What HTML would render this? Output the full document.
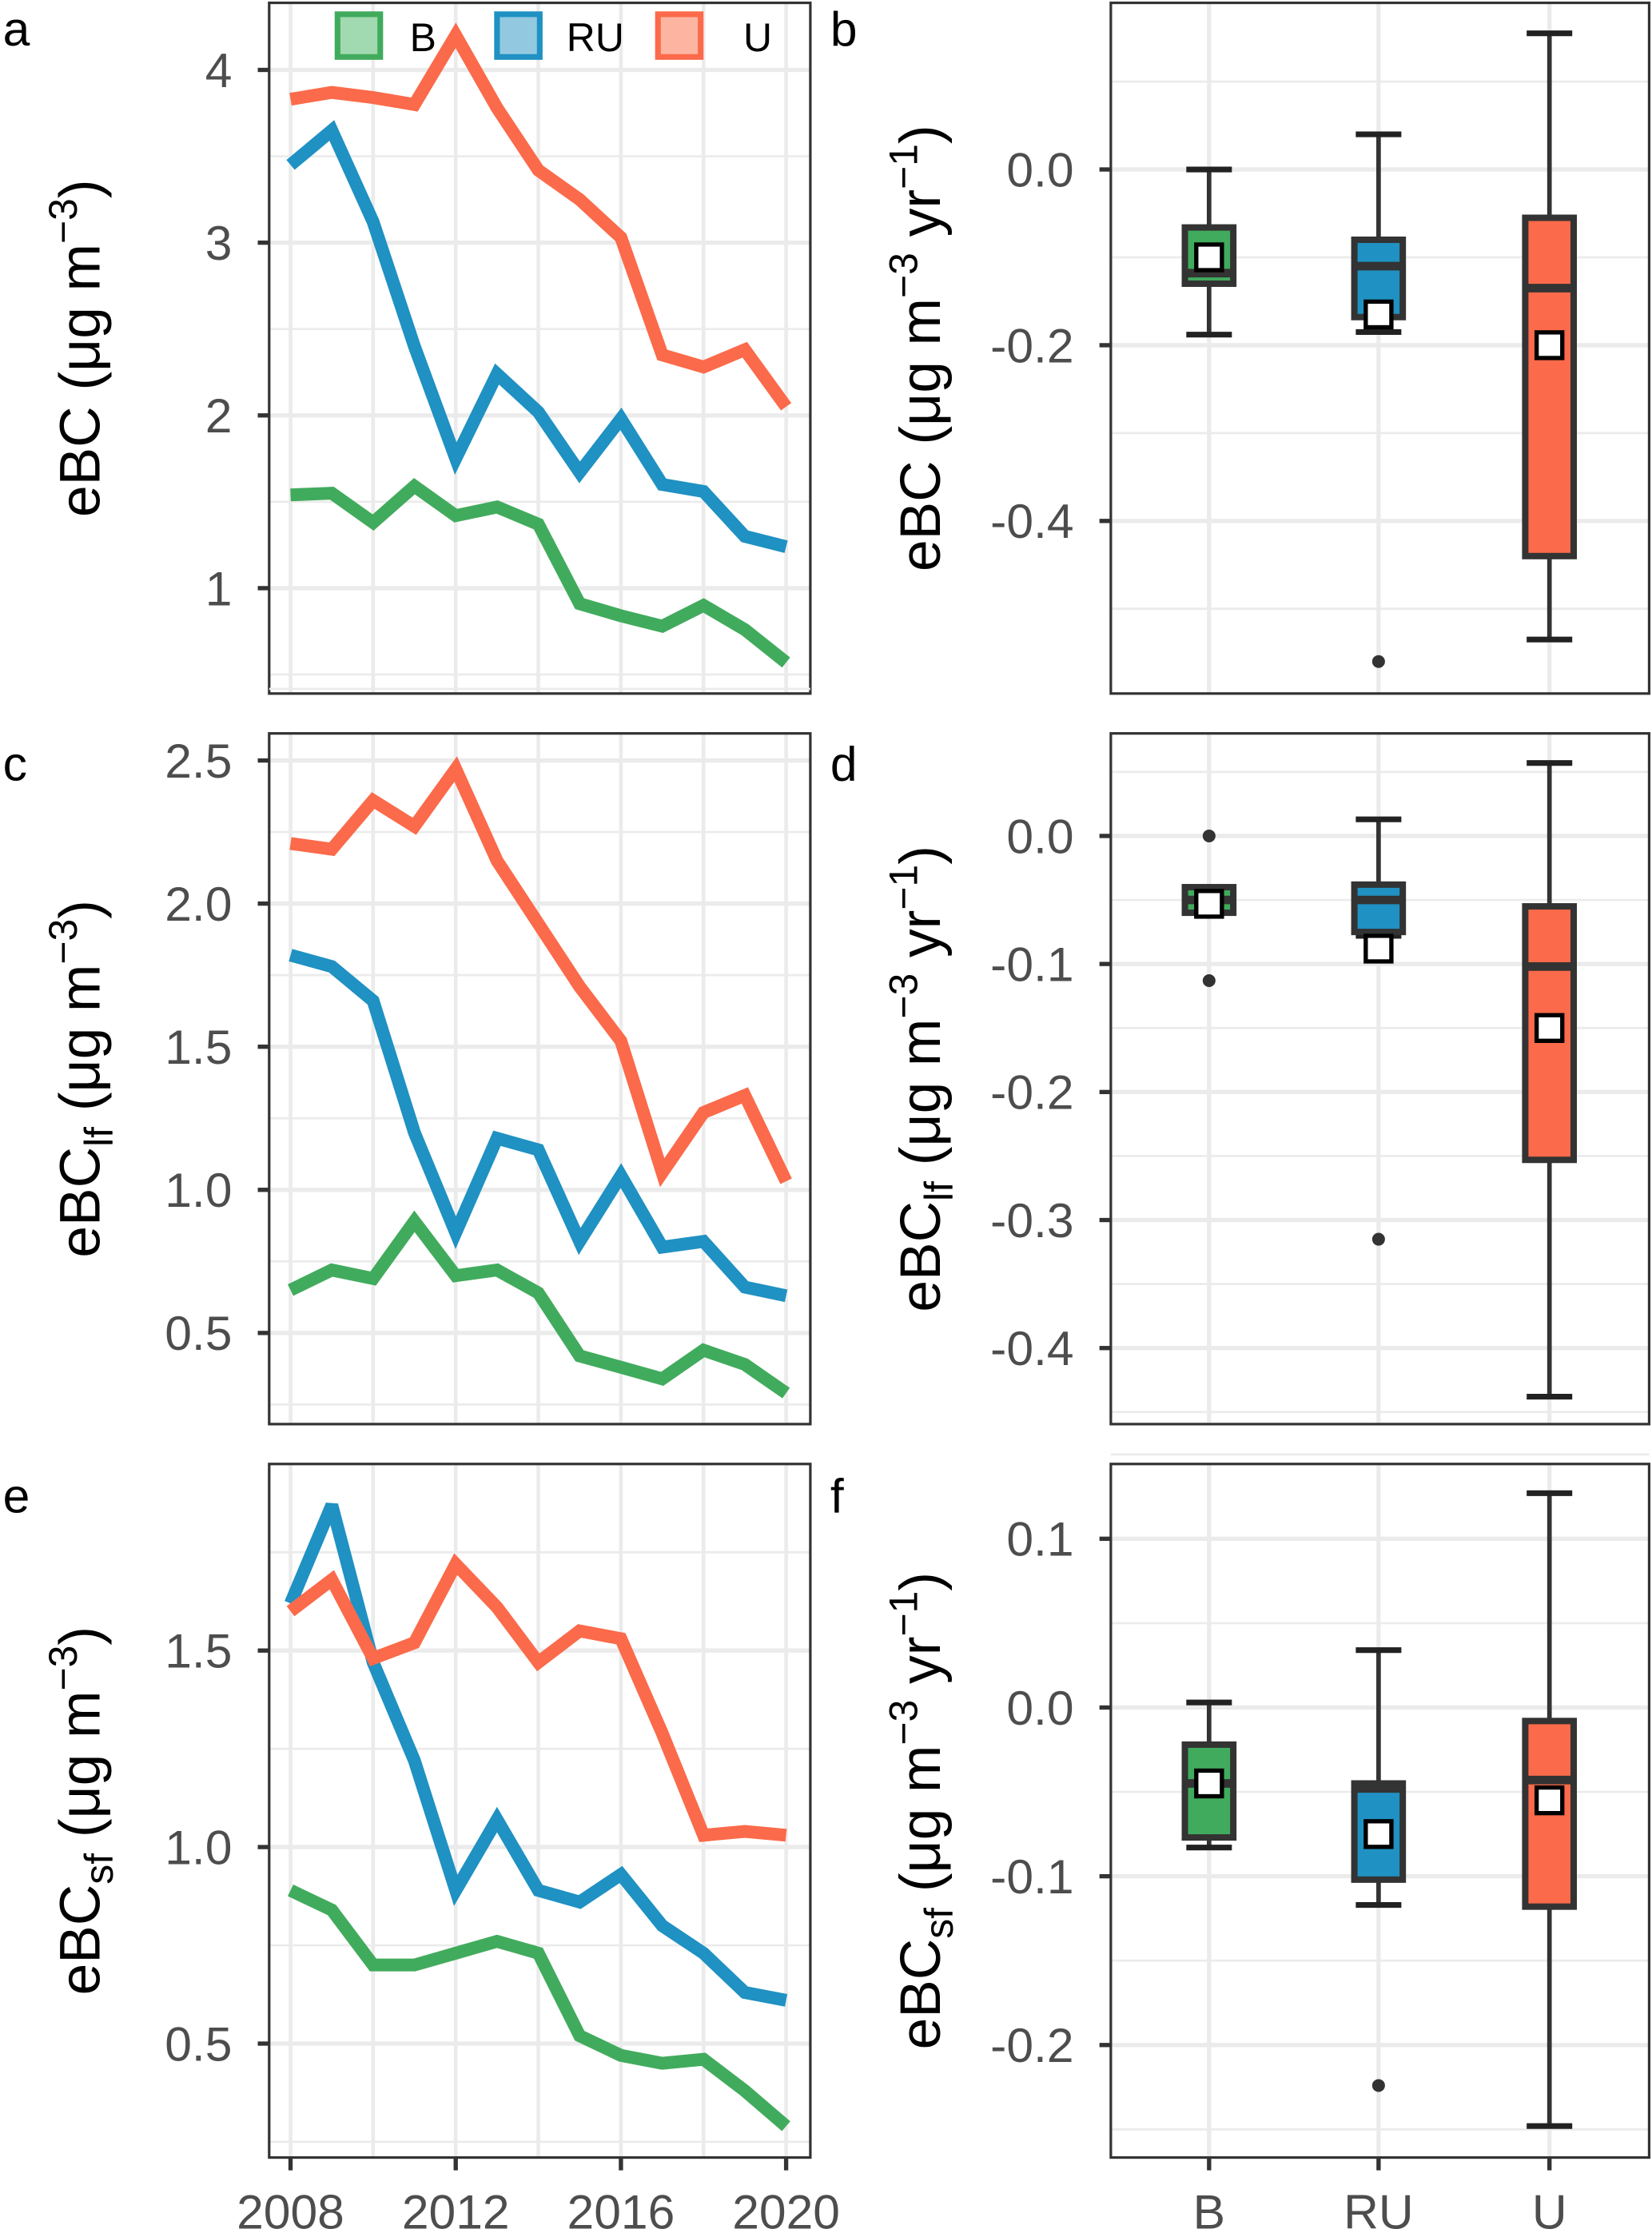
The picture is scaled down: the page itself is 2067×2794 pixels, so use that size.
<!DOCTYPE html>
<html><head><meta charset="utf-8">
<style>
html,body{margin:0;padding:0;background:#fff;}
svg{display:block;font-family:"Liberation Sans",Arial,sans-serif;}
</style></head>
<body>
<svg id="fig" width="2067" height="2794" viewBox="0 0 1160 1568" xmlns="http://www.w3.org/2000/svg"></svg>
<script>
const years = [2008,2009,2010,2011,2012,2013,2014,2015,2016,2017,2018,2019,2020];
const xTickLabels = [2008,2012,2016,2020];
const groups = ["B","RU","U"];
// Panel a
const aU  = [3.83,3.87,3.84,3.80,4.20,3.78,3.42,3.25,3.03,2.35,2.28,2.38,2.05];
const aRU = [3.45,3.65,3.12,2.40,1.75,2.24,2.02,1.67,1.98,1.60,1.56,1.30,1.24];
const aB  = [1.54,1.55,1.38,1.59,1.42,1.47,1.37,0.91,0.84,0.78,0.90,0.76,0.57];
const aTicks = [1,2,3,4];
// Panel c
const cU  = [2.21,2.19,2.36,2.27,2.47,2.15,1.93,1.71,1.52,1.06,1.27,1.33,1.03];
const cRU = [1.82,1.78,1.66,1.20,0.85,1.18,1.14,0.82,1.05,0.80,0.82,0.66,0.63];
const cB  = [0.65,0.72,0.69,0.89,0.70,0.72,0.64,0.42,0.38,0.34,0.44,0.39,0.29];
const cTicks = [0.5,1.0,1.5,2.0,2.5];
// Panel e
const eU  = [1.60,1.68,1.48,1.52,1.72,1.61,1.47,1.55,1.53,1.29,1.03,1.04,1.03];
const eRU = [1.62,1.87,1.47,1.22,0.89,1.07,0.89,0.86,0.93,0.80,0.73,0.63,0.61];
const eB  = [0.89,0.84,0.70,0.70,0.73,0.76,0.73,0.52,0.47,0.45,0.46,0.38,0.29];
const eTicks = [0.5,1.0,1.5];
// Box stats: [whiskerLow, q1, median, q3, whiskerHigh, mean]
const bStats = [[-0.188,-0.130,-0.118,-0.066,0.0,-0.100],[-0.185,-0.168,-0.110,-0.080,0.040,-0.165],[-0.535,-0.440,-0.135,-0.055,0.155,-0.200]];
const bOut = [[],[-0.56],[]];
const bTicks = [-0.4,-0.2,0.0];
const dStats = [[-0.060,-0.060,-0.050,-0.040,-0.040,-0.053],[-0.078,-0.075,-0.050,-0.038,0.013,-0.088],[-0.438,-0.253,-0.102,-0.055,0.057,-0.150]];
const dOut = [[0.0,-0.113],[-0.315],[]];
const dTicks = [-0.4,-0.3,-0.2,-0.1,0.0];
const fStats = [[-0.083,-0.077,-0.045,-0.022,0.003,-0.045],[-0.117,-0.102,-0.048,-0.045,0.034,-0.075],[-0.248,-0.118,-0.043,-0.008,0.127,-0.055]];
const fOut = [[],[-0.224],[]];
const fTicks = [-0.2,-0.1,0.0,0.1];

const colors = {B:"#41ab5d",RU:"#1f91c2",U:"#fb6a4a"};
const light = {B:"#a1d9b0",RU:"#93c9e0",U:"#fdb5a2"};
const NS="http://www.w3.org/2000/svg";
const svg=document.getElementById('fig');
function el(tag,attrs,parent){const e=document.createElementNS(NS,tag);for(const k in attrs)e.setAttribute(k,attrs[k]);(parent||svg).appendChild(e);return e;}
function lin(d0,d1,r0,r1){return v=>r0+(v-d0)*(r1-r0)/(d1-d0);}

function frame(g,x0,x1,y0,y1){
  const r=el('rect',{x:x0,y:y0,width:x1-x0,height:y1-y0,fill:'none',stroke:'#333',"stroke-width":1.8},g);
  
}
function yAxis(g,ticks,y,x0,x1,fmt){
  for(let i=0;i<ticks.length+1;i++){
    const step=ticks[1]-ticks[0];
    const v=ticks[0]+(i-0.5)*step;
    const yy=y(v);
    const l=el('line',{x1:x0,x2:x1,y1:yy,y2:yy,stroke:'#ebebeb',"stroke-width":1.5},g);
    
  }
  ticks.forEach(v=>{
    const yy=y(v);
    const l=el('line',{x1:x0,x2:x1,y1:yy,y2:yy,stroke:'#ebebeb',"stroke-width":3},g);
    
    const t=el('line',{x1:x0-8,x2:x0,y1:yy,y2:yy,stroke:'#333',"stroke-width":3},g);
    
    const tx=el('text',{x:x0-26,y:yy+12,"text-anchor":"end","font-size":34,fill:'#4d4d4d'},g);
    tx.textContent=fmt(v);
    
  });
}
function yTitle(g,x,cy,main,sub,unitKind){
  const t=el('text',{transform:`translate(${x},${cy}) rotate(-90)`,"text-anchor":"middle","font-size":40,fill:'#000'},g);
  
  let s=`<tspan>${main}</tspan>`;
  if(sub) s+=`<tspan font-size="28" dy="9">${sub}</tspan><tspan dy="-9"> </tspan>`; else s+=`<tspan> </tspan>`;
  if(unitKind==='c') s+=`<tspan>(μg m</tspan><tspan font-size="28" dy="-16">−3</tspan><tspan dy="16">)</tspan>`;
  else s+=`<tspan>(μg m</tspan><tspan font-size="28" dy="-16">−3</tspan><tspan dy="16"> yr</tspan><tspan font-size="28" dy="-16">−1</tspan><tspan dy="16">)</tspan>`;
  t.innerHTML=s;
}
function panelLetter(x,y,ch){const t=el('text',{x:x,y:y,"font-size":34,fill:'#000'});t.textContent=ch;}

function linePanel(name,y0,y1,vTop,vBot,ticks,fmt,series,showX,title,sub){
  const g=el('g',{});
  const X0=189,X1=569;
  const x=lin(2008,2020,204,552);
  const y=lin(vTop,vBot,y0,y1);
  for(let yr=2008;yr<=2020;yr+=2){
    const l=el('line',{x1:x(yr),x2:x(yr),y1:y0,y2:y1,stroke:'#ebebeb',"stroke-width":2.6},g);
    
  }
  yAxis(g,ticks,y,X0,X1,fmt);
  series.forEach(([grp,vals])=>{
    const pts=years.map((yr,i)=>x(yr).toFixed(1)+','+y(vals[i]).toFixed(1)).join(' ');
    const p=el('polyline',{points:pts,fill:'none',stroke:colors[grp],"stroke-width":9,"stroke-linejoin":"miter","stroke-miterlimit":3},g);
    
  });
  frame(g,X0,X1,y0,y1);
  if(showX){
    xTickLabels.forEach(v=>{
      const t=el('line',{x1:x(v),x2:x(v),y1:y1,y2:y1+9,stroke:'#333',"stroke-width":3},g);
      
      const tx=el('text',{x:x(v),y:y1+50,"text-anchor":"middle","font-size":34,fill:'#4d4d4d'},g);
      tx.textContent=v;
    });
  }
  yTitle(g,70,(y0+y1)/2,title,sub,'c');
  return g;
}
function boxPanel(name,y0,y1,vTop,vBot,ticks,stats,outs,showX,title,sub){
  const g=el('g',{});
  const X0=780,X1=1158;
  const xs=[849,968,1088];
  const y=lin(vTop,vBot,y0,y1);
  xs.forEach(xx=>{const l=el('line',{x1:xx,x2:xx,y1:y0,y2:y1,stroke:'#ebebeb',"stroke-width":3},g);});
  yAxis(g,ticks,y,X0,X1,v=>v.toFixed(1).replace('-0.0','0.0'));
  stats.forEach((s,i)=>{
    const grp=groups[i],xx=xs[i];
    const [wl,q1,md,q3,wh,mn]=s;
    const bg=el('g',{},g);
    el('line',{x1:xx,x2:xx,y1:y(wh),y2:y(wl),stroke:'#333',"stroke-width":3.2},bg);
    el('line',{x1:xx-16,x2:xx+16,y1:y(wh),y2:y(wh),stroke:'#222',"stroke-width":4},bg);
    el('line',{x1:xx-16,x2:xx+16,y1:y(wl),y2:y(wl),stroke:'#222',"stroke-width":4},bg);
    el('rect',{x:xx-17,y:y(q3),width:34,height:Math.max(y(q1)-y(q3),1),fill:colors[grp],stroke:'#333',"stroke-width":4.5},bg);
    el('line',{x1:xx-17,x2:xx+17,y1:y(md),y2:y(md),stroke:'#333',"stroke-width":6},bg);
    const m=el('rect',{x:xx-9,y:y(mn)-9,width:18,height:18,fill:'#fff',stroke:'#000',"stroke-width":3},bg);
    
    outs[i].forEach(o=>{const c=el('circle',{cx:xx,cy:y(o),r:4.5,fill:'#333'},bg);});
  });
  frame(g,X0,X1,y0,y1);
  if(showX){
    xs.forEach((xx,i)=>{
      const t=el('line',{x1:xx,x2:xx,y1:y1,y2:y1+9,stroke:'#333',"stroke-width":3},g);
      
      const tx=el('text',{x:xx,y:y1+50,"text-anchor":"middle","font-size":34,fill:'#4d4d4d'},g);
      tx.textContent=groups[i];
    });
  }
  yTitle(g,660,(y0+y1)/2,title,sub,'t');
}

linePanel('panel-a',2,487,1+(413-2)/121.3,1-(487-413)/121.3,aTicks,v=>String(v),[['B',aB],['RU',aRU],['U',aU]],false,'eBC',null);
linePanel('panel-c',515,1000,2.5+(534-515)/201,0.5-(1000-936)/201,cTicks,v=>v.toFixed(1),[['B',cB],['RU',cRU],['U',cU]],false,'eBC','lf');
linePanel('panel-e',1028,1515,1.5+(1159-1028)/276,0.5-(1515-1435)/276,eTicks,v=>v.toFixed(1),[['B',eB],['RU',eRU],['U',eU]],true,'eBC','sf');
boxPanel('panel-b',2,487,(119-2)/617,-(487-119)/617,bTicks,bStats,bOut,false,'eBC',null);
boxPanel('panel-d',515,1000,(587-515)/899,-(1000-587)/899,dTicks,dStats,dOut,false,'eBC','lf');
boxPanel('panel-f',1028,1515,(1199-1028)/1185,-(1515-1199)/1185,fTicks,fStats,fOut,true,'eBC','sf');

// legend
const lg=el('g',{});
[[235,297,'B'],[347,418,'RU'],[460,532,'U']].forEach(([sx,tx,grp])=>{
  const e=el('g',{},lg);
  el('rect',{x:sx+2,y:10,width:30,height:30,fill:light[grp],stroke:colors[grp],"stroke-width":4},e);
  const t=el('text',{x:tx,y:36,"text-anchor":"middle","font-size":28,fill:'#000'},e);t.textContent=grp;
});
panelLetter(2,32,'a');panelLetter(583,32,'b');panelLetter(2,548,'c');panelLetter(583,548,'d');panelLetter(2,1062,'e');panelLetter(583,1062,'f');
</script>
</body></html>
